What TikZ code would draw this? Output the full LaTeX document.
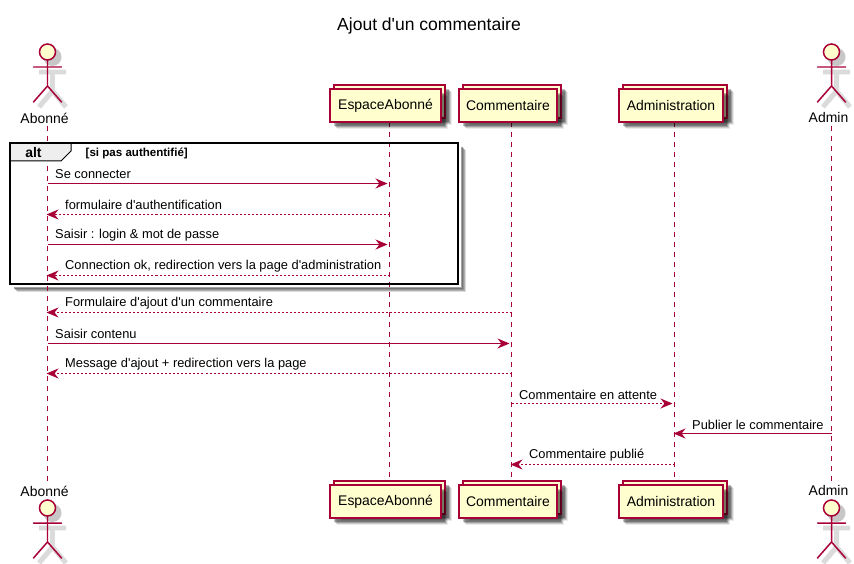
\documentclass[tikz,border=0pt]{standalone}
\usepackage{fontspec}
\setmainfont{Liberation Sans}[Ligatures=TeXOff]
\usetikzlibrary{arrows.meta}
\definecolor{plum}{HTML}{A80036}
\definecolor{cream}{HTML}{FEFECE}
\definecolor{tabgray}{HTML}{EEEEEE}
\tikzset{
  softshadow/.style={
    preaction={draw=none,fill=black,opacity=.08,transform canvas={shift={(7pt,-7pt)}}},
    preaction={draw=none,fill=black,opacity=.14,transform canvas={shift={(6pt,-6pt)}}},
    preaction={draw=none,fill=black,opacity=.2,transform canvas={shift={(5pt,-5pt)}}},
    preaction={draw=none,fill=black,opacity=.25,transform canvas={shift={(4pt,-4pt)}}}},
  pbox/.style={draw=plum,line width=1.1pt,fill=cream,inner sep=0pt,softshadow,font=\fontsize{14}{16}\selectfont},
  actorline/.style={draw=plum,line width=1.5pt,line cap=round},
  actorshade/.style={draw=black!14,line width=5pt},
  lifeline/.style={draw=plum,line width=1bp,dash pattern=on 5bp off 5bp},
  msg/.style={draw=plum,line width=1bp,shorten >=2bp,-{Stealth[length=12bp,width=10bp,inset=4bp,fill=plum]}},
  leftmsg/.style={msg,shorten >=-1bp},
  dotted msg/.style={dash pattern=on 2bp off 2bp},
  msgtext/.style={anchor=west,inner sep=0pt,font=\fontsize{12.9}{15}\selectfont},
  nametext/.style={inner sep=0pt,font=\fontsize{14}{16}\selectfont}
}
\newcommand{\stickman}[2]{%
  \begin{scope}[shift={(#1,#2)}]
    \begin{scope}[shift={(5,5)}]
      \draw[actorshade] (0,15)--(0,34) (-13.5,15)--(13.5,15) (0,34)--(-13.5,50) (0,34)--(13.5,50);
      \fill[black!22] (0,0) circle (9);
    \end{scope}
    \draw[actorline] (0,8)--(0,34) (-14,15)--(14,15) (0,34)--(-14,50) (0,34)--(14,50);
    \filldraw[draw=plum,fill=cream,line width=1.5pt] (0,0) circle (8);
  \end{scope}}
\begin{document}
\begin{tikzpicture}[x=1bp,y=-1bp]
\useasboundingbox (0,0) rectangle (854,564);
\fill[white] (0,0) rectangle (854,564);
\node[inner sep=0pt,font=\fontsize{17.6}{20}\selectfont] (title) at (429,26) {Ajout d'un commentaire};
% frame shadow, then frame
\foreach \o/\op in {7/.14,6/.2,5/.28,4/.36}{
  \draw[black,opacity=\op,line width=2bp] (458+\o,143+\o)--(458+\o,284+\o)--(10+\o,284+\o);
}
% lifeline ends
\coordinate (aboT) at (47.5,126); \coordinate (aboB) at (47.5,481);
\coordinate (espT) at (389.5,122); \coordinate (espB) at (389.5,481);
\coordinate (comT) at (511.5,122); \coordinate (comB) at (511.5,481);
\coordinate (admT) at (674.5,122); \coordinate (admB) at (674.5,481);
\coordinate (adnT) at (831.5,126); \coordinate (adnB) at (831.5,481);
\foreach \n in {abo,esp,com,adm,adn}{\draw[lifeline] (\n T) -- (\n B);}
% actors
\stickman{47.5}{52}
\stickman{47.5}{508}
\stickman{831.5}{52}
\stickman{831.5}{508}
\node[nametext] (aboTn) at (44.5,118) {Abonné};
\node[nametext] (aboBn) at (44.5,491) {Abonné};
\node[nametext] (adnTn) at (828.5,118) {Admin};
\node[nametext] (adnBn) at (828.5,491) {Admin};
% participants
\foreach \nm/\cx/\w/\lab in {esp/385.5/111/EspaceAbonné,com/508/98/Commentaire,adm/671/104/Administration}{
  \node[pbox,minimum width=\w bp,minimum height=33bp] (\nm Tback) at (\cx+4,101.5) {};
  \node[pbox,minimum width=\w bp,minimum height=33bp] (\nm Tbox) at (\cx,105.5) {\lab};
  \node[pbox,minimum width=\w bp,minimum height=33bp] (\nm Bback) at (\cx+4,497.5) {};
  \node[pbox,minimum width=\w bp,minimum height=33bp] (\nm Bbox) at (\cx,501.5) {\lab};
}
% frame
\draw[black,line width=2bp] (10,143) rectangle (458,284);
\path[fill=tabgray,draw=black,line width=1bp] (10,143)--(71,143)--(71,151)--(61,161)--(10,161)--cycle;
\draw[black,line width=2bp] (10,143)--(71,143) (10,143)--(10,161);
\node[inner sep=0pt,font=\bfseries\fontsize{14}{16}\selectfont] (alt) at (33.5,153) {alt};
\node[inner sep=0pt,anchor=west,font=\bfseries\fontsize{11.6}{13}\selectfont] (guard) at (85.5,153) {[si pas authentifié]};
% messages
\foreach \i/\y in {1/183.5,2/214.5,3/244.5,4/275.5,5/312.5,6/343.5,7/373.5,8/403.5,9/433.5,10/464.5}{\coordinate (m\i) at (0,\y);}
\draw[msg] (aboT |- m1) -- (espT |- m1);
\draw[leftmsg,dotted msg] (espT |- m2) -- (aboT |- m2);
\draw[msg] (aboT |- m3) -- (espT |- m3);
\draw[leftmsg,dotted msg] (espT |- m4) -- (aboT |- m4);
\draw[leftmsg,dotted msg] (comT |- m5) -- (aboT |- m5);
\draw[msg] (aboT |- m6) -- (comT |- m6);
\draw[leftmsg,dotted msg] (comT |- m7) -- (aboT |- m7);
\draw[msg,dotted msg] (comT |- m8) -- (admT |- m8);
\draw[leftmsg] (adnT |- m9) -- (admT |- m9);
\draw[leftmsg,dotted msg] (admT |- m10) -- (comT |- m10);
\node[msgtext] (t1) at (55,174.5) {Se connecter};
\node[msgtext] (t2) at (65,205) {formulaire d'authentification};
\node[msgtext] (t3) at (55,235.5) {Saisir : login \& mot de passe};
\node[msgtext] (t4) at (65,266) {Connection ok, redirection vers la page d'administration};
\node[msgtext] (t5) at (65,303.5) {Formulaire d'ajout d'un commentaire};
\node[msgtext] (t6) at (55,334) {Saisir contenu};
\node[msgtext] (t7) at (65,364.5) {Message d'ajout + redirection vers la page};
\node[msgtext] (t8) at (519,395) {Commentaire en attente};
\node[msgtext] (t9) at (692,425) {Publier le commentaire};
\node[msgtext] (t10) at (529,455.5) {Commentaire publié};
\end{tikzpicture}
\end{document}
